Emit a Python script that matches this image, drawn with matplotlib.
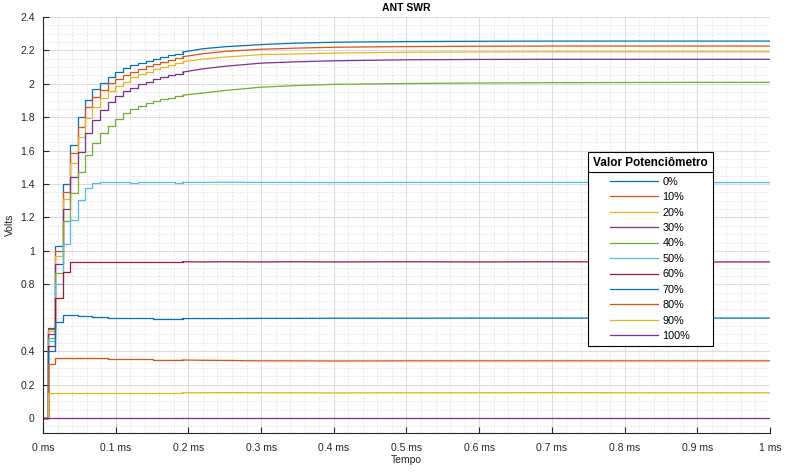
# ant_swr_plot.py
# ANT SWR - resposta por valor do potenciometro

import matplotlib.pyplot as plt
from matplotlib.lines import Line2D
from matplotlib.ticker import FixedLocator, MultipleLocator

plt.rcParams['font.family'] = ['Liberation Sans', 'DejaVu Sans']

# tempo em ms (amostras do degrau)
tempo_ms = [0.0, 0.0065, 0.017, 0.027, 0.037, 0.048, 0.058, 0.068, 0.079, 0.089,
            0.099, 0.11, 0.12, 0.13, 0.141, 0.151, 0.161, 0.172, 0.182, 0.192,
            0.22, 0.25, 0.3, 0.35, 0.4, 0.5, 0.6, 0.7, 0.8, 0.9, 1.0]
# a partir deste indice o sinal ja esta quase estavel (desenhado sem degraus)
idx_estavel = 19

pot_0 = [0, 0.54, 1.03, 1.40, 1.634, 1.80, 1.903, 1.967, 2.007, 2.043, 2.073,
         2.093, 2.11, 2.124, 2.138, 2.15, 2.16, 2.17, 2.18, 2.19, 2.21, 2.222,
         2.235, 2.244, 2.249, 2.253, 2.255, 2.256, 2.256, 2.256, 2.256]
pot_10 = [0, 0.53, 1.00, 1.35, 1.584, 1.743, 1.859, 1.919, 1.963, 2.003, 2.029,
          2.053, 2.073, 2.09, 2.105, 2.118, 2.13, 2.142, 2.152, 2.162, 2.18, 2.194,
          2.207, 2.214, 2.219, 2.223, 2.225, 2.226, 2.226, 2.226, 2.226]
pot_20 = [0, 0.52, 0.97, 1.31, 1.524, 1.68, 1.793, 1.859, 1.913, 1.959, 1.987,
          2.013, 2.039, 2.057, 2.073, 2.087, 2.1, 2.112, 2.122, 2.132, 2.148, 2.16,
          2.175, 2.179, 2.184, 2.189, 2.191, 2.192, 2.192, 2.192, 2.192]
pot_30 = [0, 0.50, 0.92, 1.25, 1.444, 1.594, 1.704, 1.783, 1.843, 1.89, 1.925,
          1.955, 1.978, 1.997, 2.013, 2.027, 2.04, 2.051, 2.061, 2.07, 2.09, 2.105,
          2.124, 2.132, 2.138, 2.144, 2.146, 2.147, 2.147, 2.147, 2.147]
pot_40 = [0, 0.48, 0.87, 1.18, 1.345, 1.474, 1.574, 1.644, 1.704, 1.75, 1.79,
          1.825, 1.85, 1.87, 1.887, 1.9, 1.91, 1.918, 1.925, 1.932, 1.945, 1.96,
          1.98, 1.99, 1.997, 2.002, 2.005, 2.007, 2.008, 2.009, 2.009]
pot_50 = [0, 0.46, 0.80, 1.04, 1.185, 1.305, 1.375, 1.405, 1.41, 1.411, 1.41,
          1.41, 1.409, 1.41, 1.41, 1.411, 1.41, 1.41, 1.409, 1.41, 1.41, 1.411,
          1.41, 1.41, 1.409, 1.41, 1.41, 1.41, 1.41, 1.409, 1.409]
pot_60 = [0, 0.43, 0.716, 0.876, 0.936, 0.935, 0.934, 0.935, 0.934, 0.935, 0.935,
          0.934, 0.935, 0.934, 0.935, 0.935, 0.934, 0.935, 0.934, 0.935, 0.934, 0.935,
          0.934, 0.935, 0.934, 0.935, 0.934, 0.935, 0.934, 0.934, 0.934]
pot_70 = [0, 0.40, 0.576, 0.616, 0.614, 0.611, 0.608, 0.605, 0.603, 0.601, 0.60,
          0.598, 0.597, 0.596, 0.596, 0.595, 0.595, 0.595, 0.595, 0.595, 0.595, 0.595,
          0.596, 0.596, 0.597, 0.597, 0.598, 0.598, 0.598, 0.598, 0.598]
pot_80 = [0, 0.323, 0.361, 0.361, 0.36, 0.359, 0.358, 0.357, 0.356, 0.355, 0.354,
          0.353, 0.352, 0.351, 0.35, 0.349, 0.348, 0.348, 0.347, 0.347, 0.345, 0.344,
          0.342, 0.342, 0.341, 0.342, 0.342, 0.342, 0.342, 0.342, 0.342]
pot_90 = [0, 0.151, 0.151, 0.152, 0.151, 0.151, 0.15, 0.151, 0.151, 0.152, 0.151,
          0.151, 0.15, 0.151, 0.151, 0.152, 0.151, 0.151, 0.15, 0.151, 0.151, 0.152,
          0.151, 0.151, 0.15, 0.151, 0.151, 0.152, 0.151, 0.151, 0.151]
pot_100 = [0, 0, 0, 0, 0, 0, 0, 0, 0, 0, 0, 0, 0, 0, 0, 0, 0, 0, 0, 0, 0, 0,
           0, 0, 0, 0, 0, 0, 0, 0, 0]

series = [pot_0, pot_10, pot_20, pot_30, pot_40, pot_50,
          pot_60, pot_70, pot_80, pot_90, pot_100]
labels = ['0%', '10%', '20%', '30%', '40%', '50%',
          '60%', '70%', '80%', '90%', '100%']

x_ticks = [0, 0.1, 0.2, 0.3, 0.4, 0.5, 0.6, 0.7, 0.8, 0.9, 1.0]
x_tick_labels = ['0 ms', '0.1 ms', '0.2 ms', '0.3 ms', '0.4 ms', '0.5 ms',
                 '0.6 ms', '0.7 ms', '0.8 ms', '0.9 ms', '1 ms']
y_ticks = [0, 0.2, 0.4, 0.8, 1.0, 1.2, 1.4, 1.6, 1.8, 2.0, 2.2, 2.4]
y_tick_labels = ['0', '0.2', '0.4', '0.8', '1', '1.2', '1.4', '1.6',
                 '1.8', '2', '2.2', '2.4']

# cores padrao do MATLAB
matlab_colors = ['#0072BD', '#D95319', '#EDB120', '#7E2F8E',
                 '#77AC30', '#4DBEEE', '#A2142F']

axis_color = '#262626'

fig = plt.figure(figsize=(7.92, 4.74), dpi=100)
ax = fig.add_axes([0.0543, 0.0865, 0.9179, 0.8776])

handles = []
for i, values in enumerate(series):
    cor = matlab_colors[i % len(matlab_colors)]
    # parte do degrau (amostrada) e parte estavel
    line, = ax.plot(tempo_ms[:idx_estavel + 1], values[:idx_estavel + 1],
                    drawstyle='steps-post', color=cor, linewidth=0.9,
                    label=labels[i])
    ax.plot(tempo_ms[idx_estavel:], values[idx_estavel:], color=cor,
            linewidth=0.9)
    handles.append(line)

ax.set_xlim(0, 1.0)
ax.set_ylim(-0.09, 2.4)

ax.xaxis.set_major_locator(FixedLocator(x_ticks))
ax.set_xticklabels(x_tick_labels)
ax.xaxis.set_minor_locator(MultipleLocator(0.02))
ax.yaxis.set_major_locator(FixedLocator(y_ticks))
ax.set_yticklabels(y_tick_labels)
ax.yaxis.set_minor_locator(MultipleLocator(0.05))

ax.set_axisbelow(True)
ax.grid(which='major', color='#dcdcdc', linewidth=0.8, linestyle='-')
ax.grid(which='minor', color='#e2e2e2', linewidth=0.6, linestyle=(0, (2, 2)))

for side in ['top', 'right']:
    ax.spines[side].set_visible(False)
for side in ['left', 'bottom']:
    ax.spines[side].set_color(axis_color)
    ax.spines[side].set_linewidth(0.8)

ax.tick_params(which='major', direction='in', length=4.5, width=0.8,
               color=axis_color, labelcolor=axis_color, labelsize=7.5)
ax.tick_params(axis='x', which='major', pad=7)
ax.tick_params(axis='y', which='major', pad=6)
ax.tick_params(which='minor', length=0)

ax.set_title('ANT SWR', fontsize=7.5, fontweight='bold', color='#000000', pad=4)
ax.set_xlabel('Tempo', fontsize=7.5, color=axis_color, labelpad=2)
ax.set_ylabel('Volts', fontsize=7.5, color=axis_color, labelpad=4)

leg = ax.legend(handles=handles, loc='upper left',
                bbox_to_anchor=(0.7497, 0.6755),
                borderaxespad=0, fontsize=7.8, title='Valor Potenciômetro',
                title_fontproperties={'weight': 'bold', 'size': 8.5},
                handlelength=4.4, handletextpad=0.4, labelspacing=0.5,
                fancybox=False, framealpha=1.0, edgecolor='#000000',
                borderpad=0.45)
leg.get_frame().set_linewidth(0.8)
# um pouco mais de espaco entre o titulo e os itens
leg._legend_box.sep += 1.8

# linha separando o titulo da legenda
fig.canvas.draw()
frame_box = leg.get_frame().get_window_extent()
title_box = leg.get_title().get_window_extent()
y_sep = title_box.y0 - 3
fig.add_artist(Line2D([frame_box.x0, frame_box.x1], [y_sep, y_sep],
                      transform=None, color='#000000', linewidth=0.8))

fig.savefig('out.png', dpi=100)
